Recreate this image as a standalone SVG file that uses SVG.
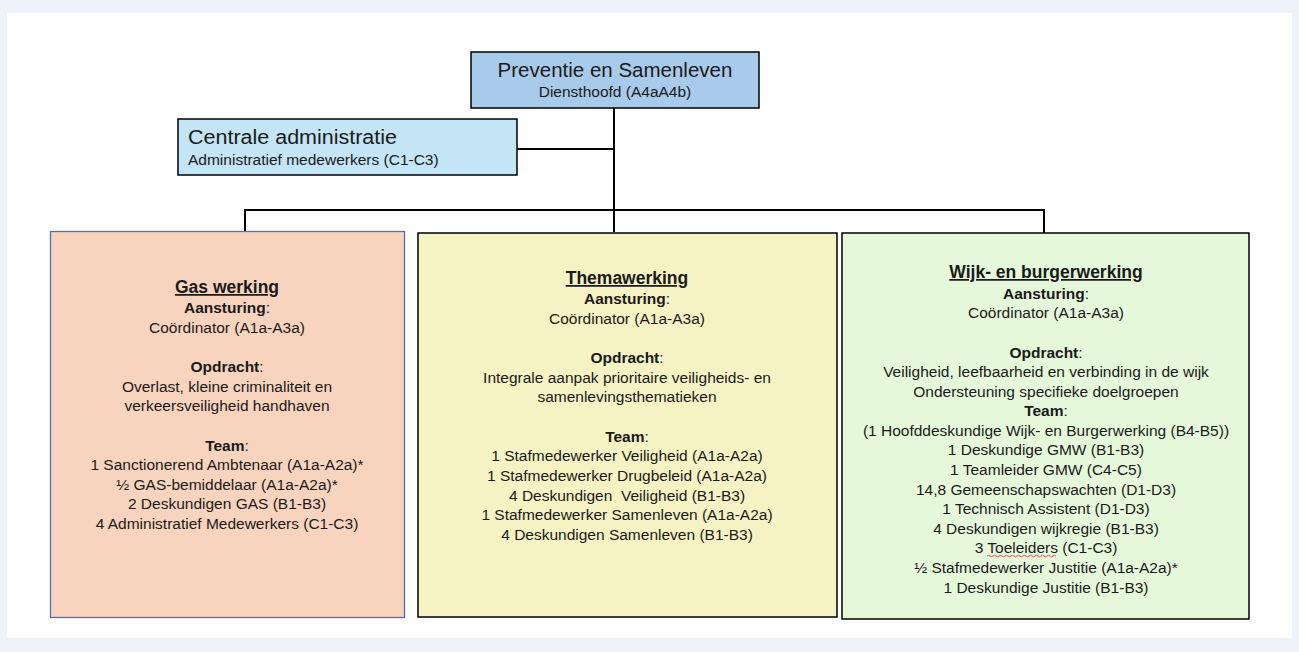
<svg xmlns="http://www.w3.org/2000/svg" width="1299" height="652" viewBox="0 0 1299 652">
<style>
  text { font-family: "Liberation Sans", Arial, sans-serif; fill: #1a1a1a; }
  .body { font-size: 15.5px; text-anchor: middle; }
  .b { font-weight: bold; }
  .title { font-size: 17.5px; font-weight: bold; text-anchor: middle; text-decoration: underline; }
  .conn { stroke: #000; stroke-width: 2; fill: none; }
  .box { stroke: #000; stroke-width: 1.5; }
</style>
<rect x="0" y="0" width="1299" height="652" fill="#eef2f9"/>
<rect x="7" y="13" width="1285" height="625" fill="#ffffff"/>

<g id="connectors">
  <path class="conn" d="M614 108 V232"/>
  <path class="conn" d="M517 149 H614"/>
  <path class="conn" d="M245 232 V210 H1044 V233"/>
</g>

<g id="node-preventie">
  <rect class="box" x="471" y="52" width="288" height="56" fill="#a9cbeb"/>
  <text x="615" y="77" style="font-size:20.5px" text-anchor="middle">Preventie en Samenleven</text>
  <text x="615" y="97" style="font-size:15.5px" text-anchor="middle">Diensthoofd (A4aA4b)</text>
</g>

<g id="node-centrale">
  <rect class="box" x="178" y="119" width="339" height="56" fill="#c3e5f5"/>
  <text x="188" y="144" style="font-size:20px" textLength="209" lengthAdjust="spacingAndGlyphs">Centrale administratie</text>
  <text x="188" y="165" style="font-size:15.5px">Administratief medewerkers (C1-C3)</text>
</g>

<g id="node-gas">
  <rect x="50.5" y="231.5" width="354" height="386" fill="#f8d4be" stroke="#4472c4" stroke-width="1.3"/>
  <text class="title" x="227" y="293">Gas werking</text>
  <text class="body" x="227" y="313"><tspan class="b">Aansturing</tspan>:</text>
  <text class="body" x="227" y="333">Coördinator (A1a-A3a)</text>
  <text class="body" x="227" y="372"><tspan class="b">Opdracht</tspan>:</text>
  <text class="body" x="227" y="392">Overlast, kleine criminaliteit en</text>
  <text class="body" x="227" y="411">verkeersveiligheid handhaven</text>
  <text class="body" x="227" y="451"><tspan class="b">Team</tspan>:</text>
  <text class="body" x="227" y="470">1 Sanctionerend Ambtenaar (A1a-A2a)*</text>
  <text class="body" x="227" y="490">½ GAS-bemiddelaar (A1a-A2a)*</text>
  <text class="body" x="227" y="509">2 Deskundigen GAS (B1-B3)</text>
  <text class="body" x="227" y="529">4 Administratief Medewerkers (C1-C3)</text>
</g>

<g id="node-thema">
  <rect class="box" x="418" y="233" width="419" height="384" fill="#f5f2c4"/>
  <text class="title" x="627" y="284">Themawerking</text>
  <text class="body" x="627" y="304"><tspan class="b">Aansturing</tspan>:</text>
  <text class="body" x="627" y="324">Coördinator (A1a-A3a)</text>
  <text class="body" x="627" y="363"><tspan class="b">Opdracht</tspan>:</text>
  <text class="body" x="627" y="383">Integrale aanpak prioritaire veiligheids- en</text>
  <text class="body" x="627" y="402">samenlevingsthematieken</text>
  <text class="body" x="627" y="442"><tspan class="b">Team</tspan>:</text>
  <text class="body" x="627" y="461">1 Stafmedewerker Veiligheid (A1a-A2a)</text>
  <text class="body" x="627" y="481">1 Stafmedewerker Drugbeleid (A1a-A2a)</text>
  <text class="body" x="627" y="501" xml:space="preserve">4 Deskundigen  Veiligheid (B1-B3)</text>
  <text class="body" x="627" y="520">1 Stafmedewerker Samenleven (A1a-A2a)</text>
  <text class="body" x="627" y="540">4 Deskundigen Samenleven (B1-B3)</text>
</g>

<g id="node-wijk">
  <rect class="box" x="842" y="233" width="407" height="386" fill="#e6f8da"/>
  <text class="title" x="1046" y="278">Wijk- en burgerwerking</text>
  <text class="body" x="1046" y="299"><tspan class="b">Aansturing</tspan>:</text>
  <text class="body" x="1046" y="318">Coördinator (A1a-A3a)</text>
  <text class="body" x="1046" y="358"><tspan class="b">Opdracht</tspan>:</text>
  <text class="body" x="1046" y="377">Veiligheid, leefbaarheid en verbinding in de wijk</text>
  <text class="body" x="1046" y="397">Ondersteuning specifieke doelgroepen</text>
  <text class="body" x="1046" y="416"><tspan class="b">Team</tspan>:</text>
  <text class="body" x="1046" y="436">(1 Hoofddeskundige Wijk- en Burgerwerking (B4-B5))</text>
  <text class="body" x="1046" y="455">1 Deskundige GMW (B1-B3)</text>
  <text class="body" x="1046" y="475">1 Teamleider GMW (C4-C5)</text>
  <text class="body" x="1046" y="495">14,8 Gemeenschapswachten (D1-D3)</text>
  <text class="body" x="1046" y="514">1 Technisch Assistent (D1-D3)</text>
  <text class="body" x="1046" y="534">4 Deskundigen wijkregie (B1-B3)</text>
  <text class="body" x="1046" y="553">3 Toeleiders (C1-C3)</text>
  <path d="M987 556 q1.5 -1.5 3 0 t3 0 t3 0 t3 0 t3 0 t3 0 t3 0 t3 0 t3 0 t3 0 t3 0 t3 0 t3 0 t3 0 t3 0 t3 0 t3 0 t3 0 t3 0 t3 0 t3 0 t3 0 t3 0" fill="none" stroke="#e03a3a" stroke-width="0.9"/>
  <text class="body" x="1046" y="573">½ Stafmedewerker Justitie (A1a-A2a)*</text>
  <text class="body" x="1046" y="593">1 Deskundige Justitie (B1-B3)</text>
</g>
</svg>
